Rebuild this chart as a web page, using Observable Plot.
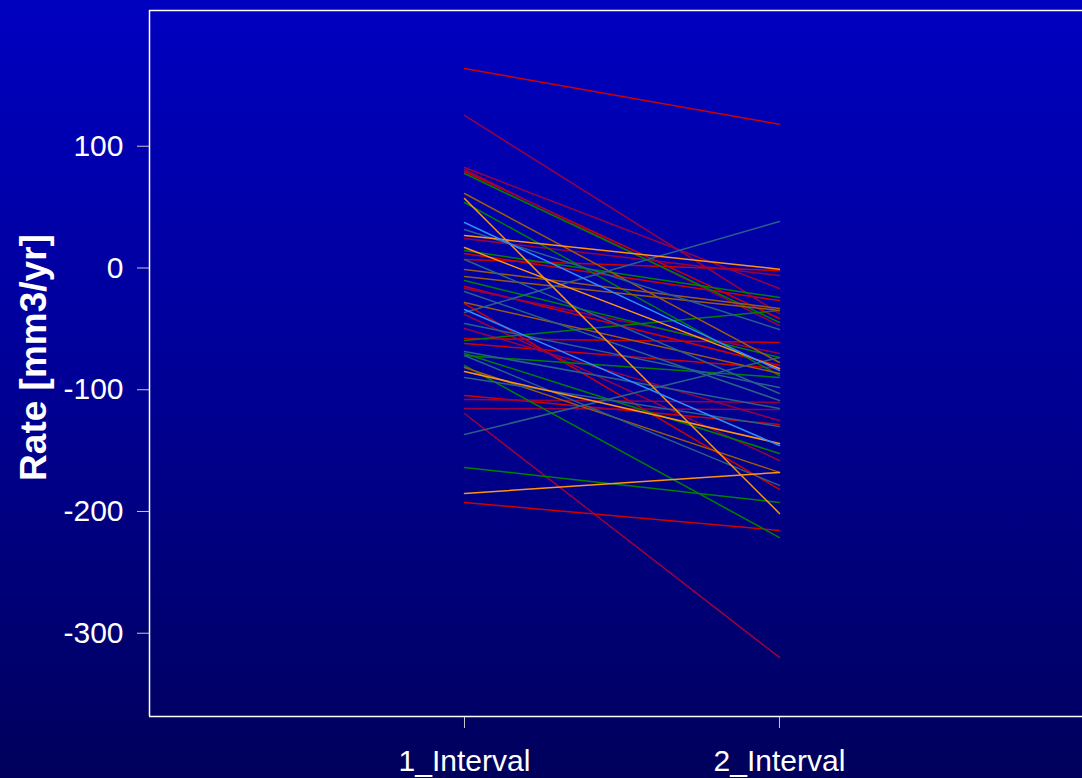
<!DOCTYPE html>
<html>
<head>
<meta charset="utf-8">
<script src="https://cdn.jsdelivr.net/npm/d3@7"></script>
<script src="https://cdn.jsdelivr.net/npm/@observablehq/plot@0.6"></script>
<style>
  html, body { margin: 0; padding: 0; }
  body {
    width: 1082px; height: 778px; overflow: hidden;
    background: linear-gradient(to bottom, #0000c0 0%, #00009a 45%, #00005c 100%);
    font-family: "Liberation Sans", Arial, sans-serif;
  }
  #chart svg { display: block; }
</style>
</head>
<body>
<div id="chart"></div>
<script>
// Category positions and labels
const intervals = [1, 2];
const intervalLabels = ["1_Interval", "2_Interval"];
const yTicks = [100, 0, -100, -200, -300];
const yLabel = "Rate [mm3/yr]";

// Rate at 1_Interval and 2_Interval for each series, plus its colour group
const rate1 = [
  163.9, 79.3, 11.9, 7.0, -15.2, -29.2, -57.9, -62.0, -104.7, -192.6,
  125.3, 82.5, 80.9, 24.2, -16.8, -38.2, -49.7, -108.0, -115.4, -119.5,
  77.6, 53.8, 14.4, -10.3, -59.5, -70.2, -71.9, -80.1, -163.8,
  61.2, -1.2, -7.0, -28.3, -81.7,
  31.6, 7.0, -19.3, -36.5, -45.6, -68.6, -71.9, -89.9, -136.8,
  57.1, 26.7, 16.8, -85.0, -185.2,
  37.4, -34.1
];
const rate2 = [
  118.0, -41.5, -26.7, -2.1, -80.1, -181.9, -61.2, -82.5, -128.5, -215.6,
  -37.4, -16.8, -47.2, -6.2, -70.2, -158.1, -125.3, -110.5, -116.2, -319.9,
  -44.8, -88.3, -24.2, -73.5, -34.9, -152.4, -89.9, -221.4, -192.6,
  -77.6, -33.3, -34.9, -86.7, -167.9,
  -50.5, -103.1, -108.8, 38.2, -98.2, -115.4, -178.6, -130.2, -73.5,
  -201.6, -1.0, -82.5, -144.1, -167.9,
  -84.2, -145.8
];
const group = [
  "red","red","red","red","red","red","red","red","red","red",
  "maroon","maroon","maroon","maroon","maroon","maroon","maroon","maroon","maroon","maroon",
  "green","green","green","green","green","green","green","green","green",
  "brown","brown","brown","brown","brown",
  "steel","steel","steel","steel","steel","steel","steel","steel","steel",
  "orange","orange","orange","orange","orange",
  "blue","blue"
];
const groupNames = ["red", "maroon", "green", "brown", "steel", "orange", "blue"];
const groupColors = ["#d00000", "#990040", "#008000", "#9a5a10", "#2a6088", "#ff9410", "#2f8cff"];

const rows = [];
rate1.forEach((v, i) => {
  rows.push({id: i, x: intervals[0], y: v, g: group[i]});
  rows.push({id: i, x: intervals[1], y: rate2[i], g: group[i]});
});

const yTop = 211.5, yBottom = -368.4;

const chart = Plot.plot({
  width: 1082,
  height: 778,
  marginLeft: 149,
  marginRight: 0,
  marginTop: 10,
  marginBottom: 62,
  style: {background: "transparent", color: "white", fontFamily: "'Liberation Sans', Arial, sans-serif"},
  x: {domain: [0, 2.962]},
  y: {domain: [yBottom, yTop]},
  color: {domain: groupNames, range: groupColors},
  marks: [
    Plot.axisY({ticks: yTicks, tickFormat: d => String(d), tickSize: 12, tickPadding: 14, fontSize: 30, label: null, stroke: "#c8c8c8", fill: "white"}),
    Plot.axisX({ticks: intervals, tickFormat: d => intervalLabels[d - 1], tickSize: 12, tickPadding: 21, fontSize: 30, label: null, stroke: "#c8c8c8", fill: "white"}),
    Plot.line(rows, {x: "x", y: "y", z: "id", stroke: "g", strokeWidth: 1.5}),
    Plot.ruleX([0], {stroke: "white", strokeWidth: 1.5}),
    Plot.ruleY([yTop, yBottom], {stroke: "white", strokeWidth: 1.5}),
    Plot.text([yLabel], {frameAnchor: "left", textAnchor: "middle", rotate: -90, dx: -115, dy: -6, fontSize: 37, fontWeight: "bold", fill: "white"})
  ]
});
document.getElementById("chart").appendChild(chart);
</script>
</body>
</html>
